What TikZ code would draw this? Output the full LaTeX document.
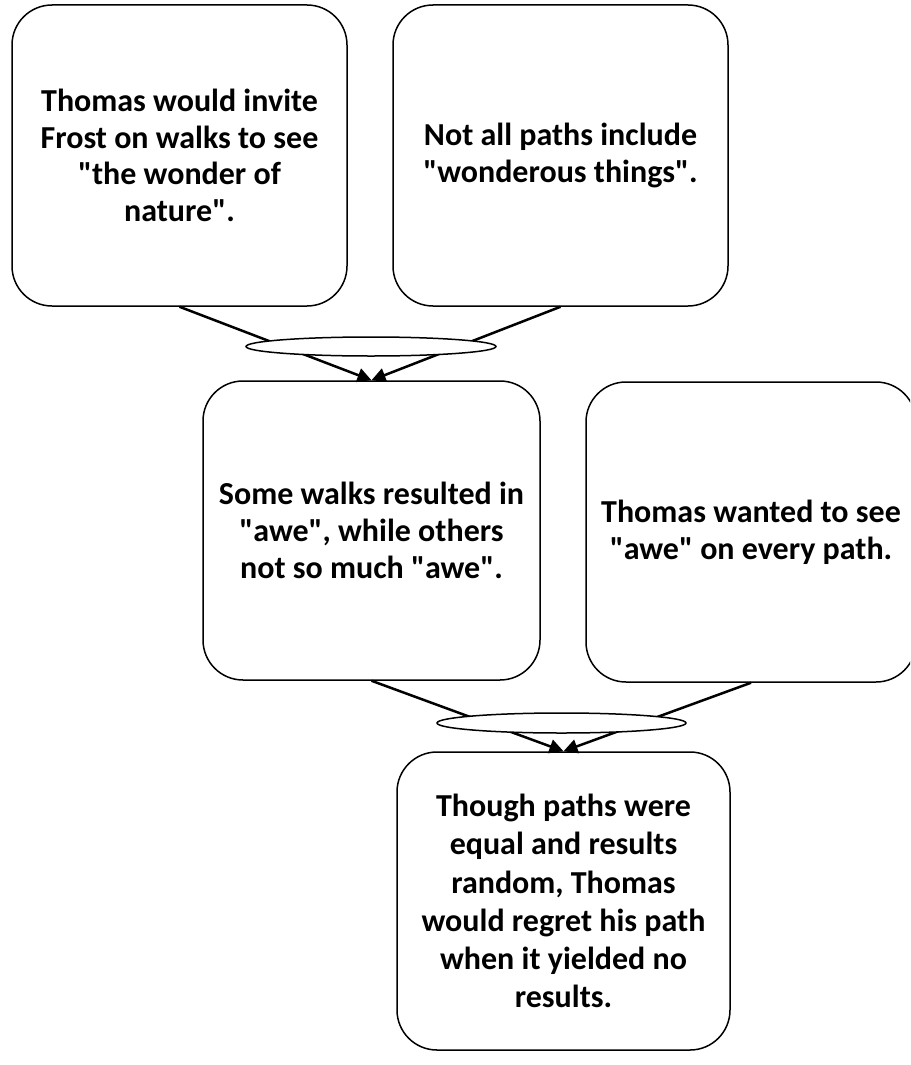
\documentclass[tikz,border=0pt]{standalone}
\usepackage{fontspec}
\setmainfont{Carlito}[Ligatures=TeXOff]
\usetikzlibrary{shapes.geometric,arrows.meta}
\begin{document}
\begin{tikzpicture}[x=1pt,y=-1pt,
  card/.style={draw=black, line width=1.5pt, rounded corners=40pt, fill=white,
    inner sep=0pt, align=center, font=\fontsize{32}{36.7}\selectfont\bfseries},
  link/.style={draw=black, line width=2.5pt, -{Triangle[length=14pt,width=14pt]}},
  joiner/.style={ellipse, draw=black, line width=1.5pt, fill=white, inner sep=0pt}]
\useasboundingbox (0,0) rectangle (910,1065);
\clip (0,0) rectangle (910,1065);

% statement boxes
\node[card, minimum width=335pt, minimum height=301pt] (A) at (179.5,155.5)
  {Thomas would invite\\Frost on walks to see\\"the wonder of\\nature".};
\node[card, minimum width=335pt, minimum height=301pt] (B) at (560.5,155.5)
  {Not all paths include\\"wonderous things".};
\node[card, minimum width=337pt, minimum height=299pt] (C) at (371.5,530.5)
  {Some walks resulted in\\"awe", while others\\not so much "awe".};
\node[card, minimum width=330pt, minimum height=300pt] (D) at (751,532)
  {Thomas wanted to see\\"awe" on every path.};
\node[card, minimum width=333pt, minimum height=298pt,
  font=\fontsize{32}{38.2}\selectfont\bfseries] (E) at (563.5,901)
  {Though paths were\\equal and results\\random, Thomas\\would regret his path\\when it yielded no\\results.};

% connectors
\draw[link] (A.south) -- (C.north);
\draw[link] (B.south) -- (C.north);
\draw[link] (C.south) -- (E.north);
\draw[link] (D.south) -- (E.north);

% joining ellipses over the connectors
\node[joiner, minimum width=250pt, minimum height=19pt] (J1) at (371,346.5) {};
\node[joiner, minimum width=249pt, minimum height=20pt] (J2) at (561.5,723) {};
\end{tikzpicture}
\end{document}
